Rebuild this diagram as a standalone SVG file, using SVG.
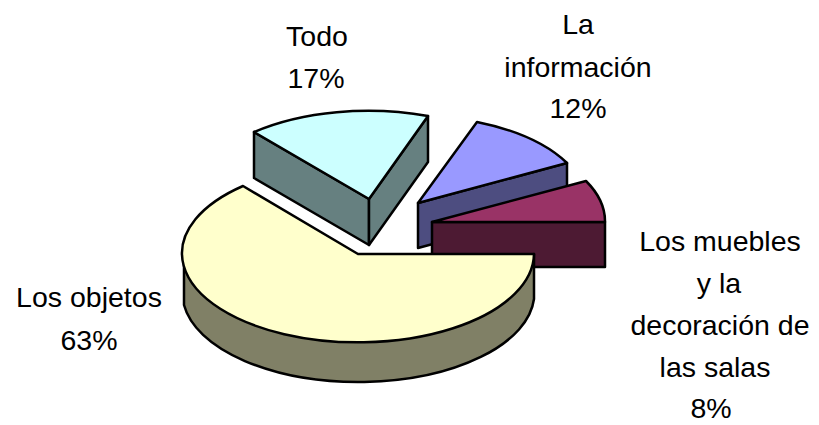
<svg xmlns="http://www.w3.org/2000/svg" width="819" height="425" viewBox="0 0 819 425">
<style>
.s{stroke:#000;stroke-width:2.5;stroke-linejoin:round}
.t{font-family:"Liberation Sans",Arial,sans-serif;font-size:28.5px;fill:#000;text-anchor:middle}
</style>
<rect width="819" height="425" fill="#fff"/>
<g id="todo">
<path class="s" fill="#668080" d="M254,132 L369,199 L369,245 L254,178 Z"/>
<path class="s" fill="#668080" d="M369,199 L428,116 L428,162 L369,245 Z"/>
<path class="s" fill="#CCFFFF" d="M369,199 L254,132 A176,89 0 0 1 428,116 Z"/>
</g>
<g id="informacion">
<path class="s" fill="#4D4D80" d="M418,203 L567,163 L567,208 L418,248 Z"/>
<path class="s" fill="#9999FF" d="M418,203 L477,122 A176,89 0 0 1 567,163 Z"/>
</g>
<g id="muebles">
<path class="s" fill="#4D1A33" d="M432,222 L605,222 L605,267 L432,267 Z"/>
<path class="s" fill="#993366" d="M432,222 L586,181 A176,89 0 0 1 605,222 Z"/>
</g>
<g id="objetos">
<path class="s" fill="#808066" d="M534,254 A176,89 0 0 1 184,259 L184,305 A176,89 0 0 0 534,299 Z"/>
<path class="s" fill="#FFFFCC" d="M358,254 L534,254 A176,89 0 1 1 243,186 Z"/>
</g>
<g id="labels">
<text class="t" x="317" y="46">Todo</text>
<text class="t" x="316" y="88">17%</text>
<text class="t" x="578" y="34">La</text>
<text class="t" x="578" y="77">información</text>
<text class="t" x="578" y="118">12%</text>
<text class="t" x="720" y="251">Los muebles</text>
<text class="t" x="719" y="293">y la</text>
<text class="t" x="720" y="335">decoración de</text>
<text class="t" x="715" y="377">las salas</text>
<text class="t" x="711" y="418">8%</text>
<text class="t" x="89" y="307">Los objetos</text>
<text class="t" x="89" y="350">63%</text>
</g>
</svg>
